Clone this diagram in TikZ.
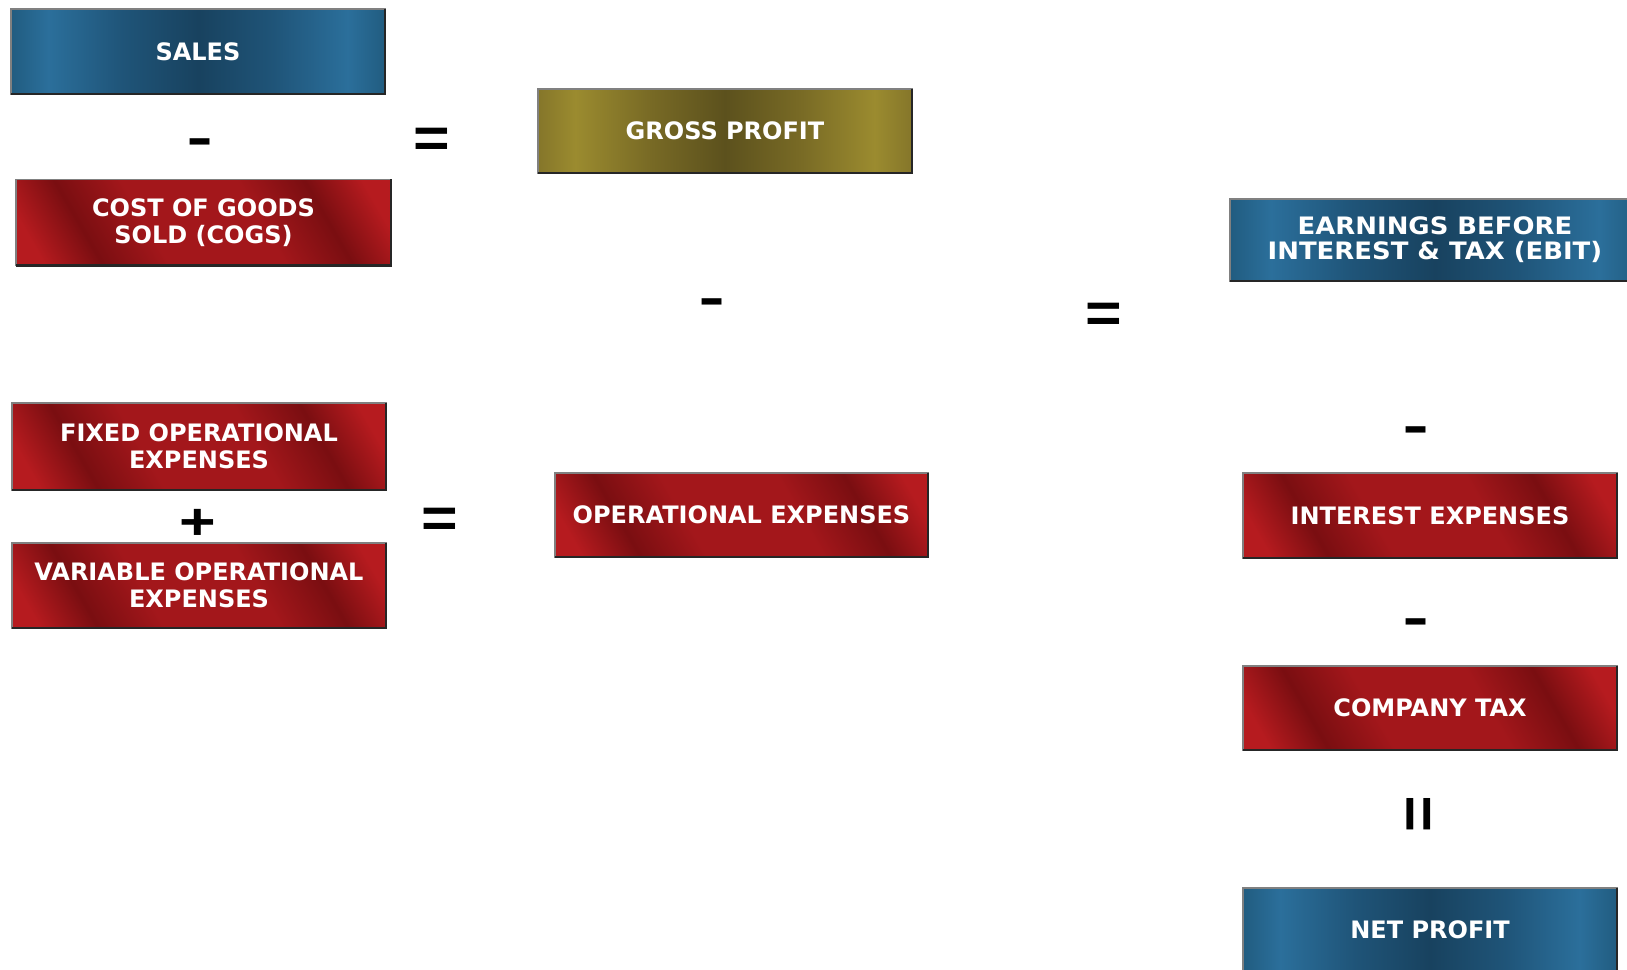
\documentclass[tikz,border=0pt]{standalone}
\usepackage{fontspec}
\usepackage{graphicx}
\newfontfamily\btnfont{DejaVu Sans}
\newfontfamily\btnwidefont{DejaVu Sans}[FakeStretch=1.08]
\newfontfamily\opfont{Liberation Sans}

% button colours
\definecolor{bluEdge}{HTML}{215C80}
\definecolor{bluLight}{HTML}{2B6F9B}
\definecolor{bluMid}{HTML}{1F5478}
\definecolor{bluDark}{HTML}{18425F}
\definecolor{goldEdge}{HTML}{85762A}
\definecolor{goldLight}{HTML}{9B8B2F}
\definecolor{goldMid}{HTML}{786A25}
\definecolor{goldDark}{HTML}{5C511D}
\definecolor{redLight}{HTML}{B61B1F}
\definecolor{redDark}{HTML}{7A0E11}
\definecolor{redMid}{HTML}{A3171B}
\definecolor{btnrim}{HTML}{808080}

\pgfdeclarehorizontalshading{bluebtn}{100bp}{color(0bp)=(bluEdge); color(25bp)=(bluEdge); color(30bp)=(bluLight); color(40bp)=(bluMid); color(50bp)=(bluDark); color(60bp)=(bluMid); color(70bp)=(bluLight); color(75bp)=(bluEdge); color(100bp)=(bluEdge)}
\pgfdeclarehorizontalshading{goldbtn}{100bp}{color(0bp)=(goldEdge); color(25bp)=(goldEdge); color(30bp)=(goldLight); color(40bp)=(goldMid); color(50bp)=(goldDark); color(60bp)=(goldMid); color(70bp)=(goldLight); color(75bp)=(goldEdge); color(100bp)=(goldEdge)}
% diagonal streaks of the red buttons, laid over a square and clipped to the button
\pgfdeclarehorizontalshading{redbtn}{100bp}{color(0bp)=(redLight); color(31bp)=(redLight); color(37bp)=(redDark); color(44bp)=(redMid); color(56bp)=(redMid); color(63bp)=(redDark); color(69bp)=(redLight); color(100bp)=(redLight)}

\begin{document}
\begin{tikzpicture}[x=0.75pt,y=-0.75pt,
  btn/.style={rectangle, inner sep=0pt, outer sep=0pt, text=white, align=center,
    draw=btnrim, line width=0.8pt, minimum width=280.5pt, minimum height=63.75pt,
    font=\btnfont\bfseries\fontsize{18}{20}\selectfont},
  bluebox/.style={btn, shading=bluebtn},
  goldbox/.style={btn, shading=goldbtn},
  redbox/.style={btn, fill=redLight,
    path picture={\shade[shading=redbtn, shading angle=30]
      ([shift={(-210,-210)}]path picture bounding box.center) rectangle
      ([shift={(210,210)}]path picture bounding box.center);}},
  btnshade/.style={draw=black!85, line width=1.6pt},
  op/.style={inner sep=0pt, outer sep=0pt, anchor=north, text=black,
    font=\opfont\bfseries\fontsize{47}{47}\selectfont},
  minusop/.style={op, font=\opfont\fontsize{61}{61}\selectfont}]

\fill[white] (0,0) rectangle (1627,970);
\useasboundingbox (0,0) rectangle (1627,970);

% left column: sales and costs
\node[bluebox] (sales) at (198,51.5) {SALES};
\node[redbox, minimum height=64.5pt, minimum width=281.25pt] (cogs) at (203.5,222.5)
  {\fontsize{18}{22}\selectfont COST OF GOODS\\SOLD (COGS)};
\node[redbox, minimum height=65.25pt] (fixed) at (199,446.5) {FIXED OPERATIONAL\\EXPENSES};
\node[redbox] (variable) at (199,585.5) {VARIABLE OPERATIONAL\\EXPENSES};

% middle column
\node[goldbox, minimum height=63pt] (gross) at (725,131) {GROSS PROFIT};
\node[redbox, minimum height=63pt, minimum width=279.75pt] (opex) at (741.5,515) {OPERATIONAL EXPENSES};

% right column
\node[bluebox, minimum width=307.5pt, minimum height=61.5pt,
  font=\btnwidefont\bfseries\fontsize{18}{19}\selectfont] (ebit) at (1435,240)
  {EARNINGS BEFORE\\INTEREST \& TAX (EBIT)};
\node[redbox] (interest) at (1430,515.5) {INTEREST EXPENSES};
\node[redbox, minimum height=63pt] (tax) at (1430,708) {COMPANY TAX};
\node[bluebox, minimum height=63pt] (net) at (1430,930) {NET PROFIT};

% dark lower and right bevel of every button
\foreach \b in {sales,cogs,fixed,variable,gross,opex,ebit,interest,tax,net}
  \draw[btnshade] (\b.south west) -- (\b.south east) -- (\b.north east);

% operators
\node[minusop] (m1) at (200,139) {-};
\node[op] (e1) at (432,128) {\scalebox{1}[0.9]{=}};
\node[op] (p1) at (198,509) {\scalebox{1}[0.82]{+}};
\node[op] (e2) at (440,508) {\scalebox{1}[0.9]{=}};
\node[minusop] (m2) at (712,299) {-};
\node[op] (e3) at (1104,303) {\scalebox{1}[0.9]{=}};
\node[minusop] (m3) at (1416,427) {-};
\node[minusop] (m4) at (1416,619) {-};
\node[op, rotate=90] (e4) at (1407,814) {=};
\end{tikzpicture}
\end{document}
